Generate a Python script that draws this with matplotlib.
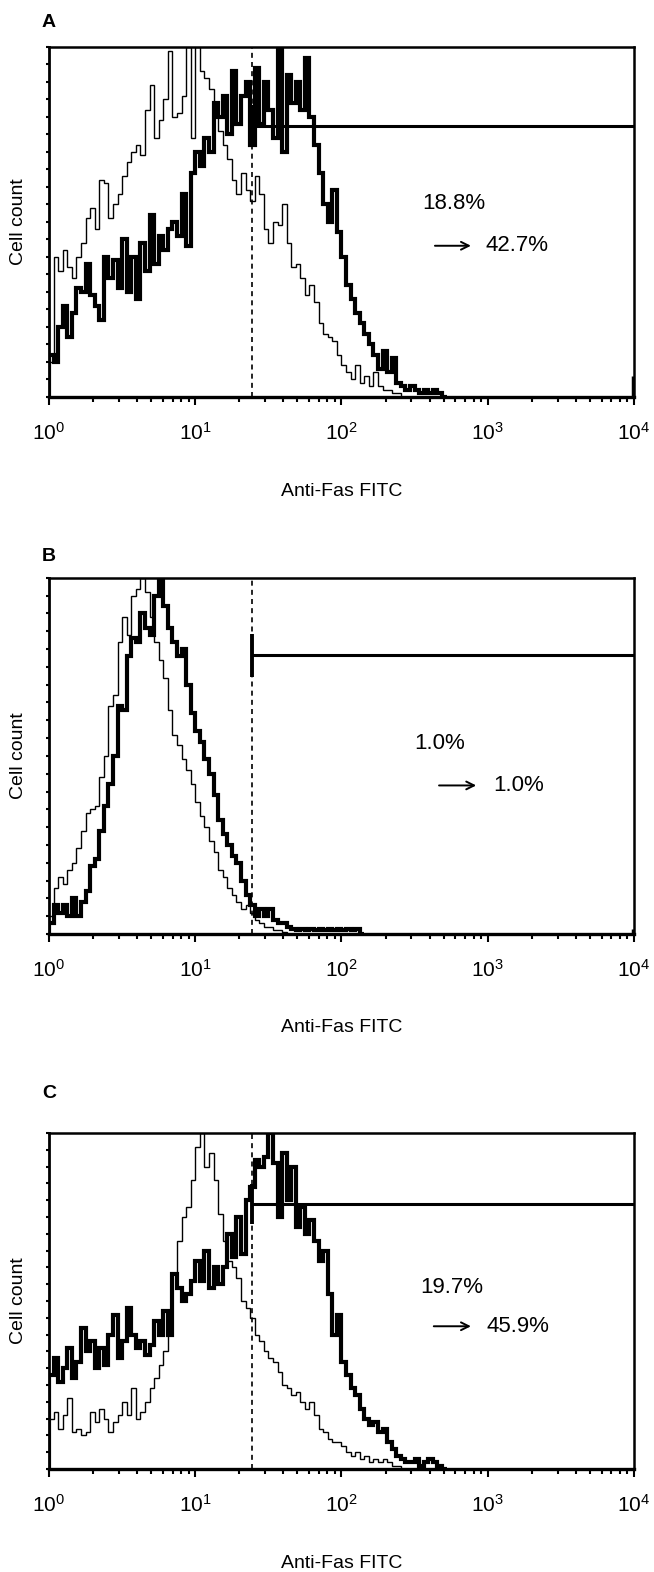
import numpy as np
import matplotlib
matplotlib.use("Agg")
import matplotlib.pyplot as plt
from matplotlib.ticker import LogLocator, NullFormatter

plt.rcParams['font.family'] = ['Liberation Sans', 'DejaVu Sans']

# histogram channels: 32 per decade, starting at 10^0, heights in % of panel height
bins_per_decade = 32

# panel A
a_ctrl = [10, 40, 36, 42, 37, 34, 40, 44, 51, 54, 48, 62, 61, 51, 55, 58, 63, 67, 70, 72,
          69, 82, 89, 74, 79, 85, 99, 80, 81, 86, 100, 74, 100, 93, 91, 88, 84,
          76, 72, 68, 62, 58, 64, 59, 56, 63, 58, 48, 44, 50, 49, 55, 44, 37, 38, 34, 29,
          32, 27, 21, 18, 17, 16, 12, 9, 7, 5, 9, 4, 6, 3, 7, 3, 2, 2, 1, 1, 0]
a_fas = [12, 10, 20, 26, 17, 24, 31, 30, 38, 29, 26, 22, 40, 34, 39, 31, 45, 30, 40, 28,
         44, 36, 52, 38, 46, 42, 48, 50, 46, 58, 43, 64, 70, 66, 74, 70, 84,
         80, 86, 75, 93, 78, 86, 90, 72, 94, 78, 90, 82, 74, 100, 70, 92, 84, 90, 82, 97,
         80, 72, 64, 55, 50, 59, 47, 40, 32, 28, 24, 21, 18, 15, 12, 8, 13, 7, 11, 4,
         3, 2, 3, 2, 1, 2, 1, 2, 1, 0]
a_overflow = 6

# panel B
b_ctrl = [5, 13, 16, 14, 18, 20, 24, 29, 34, 35, 36, 44, 50, 64, 67, 82, 89, 84, 95, 97,
          100, 96, 89, 82, 77, 72, 63, 56, 53, 49, 46, 42, 37, 33, 30, 26, 23, 18, 16,
          13, 11, 9, 7, 8, 6, 4, 3, 2, 2, 1, 1, 0.5, 0]
b_fas = [3, 8, 6, 8, 5, 10, 5, 9, 12, 19, 21, 29, 36, 42, 50, 64, 63, 78, 83, 82,
         90, 86, 84, 95, 100, 92, 86, 82, 78, 80, 70, 62, 57, 54, 49, 45, 39, 32, 28,
         25, 22, 20, 15, 11, 8, 5, 7, 5, 7, 4, 3, 3, 2, 1.5, 1, 1.5, 1, 1.5, 1,
         1.5, 1, 1.5, 1, 1.5, 1, 1.5, 1, 1.5, 0]
b_overflow = 1.5

# panel C
c_ctrl = [15, 17, 12, 16, 21, 11, 12, 10, 11, 17, 14, 18, 15, 11, 14, 16, 20, 16, 24, 15,
          17, 20, 24, 27, 31, 35, 44, 58, 68, 75, 78, 86, 96, 100, 90, 94, 86, 76, 68,
          62, 60, 57, 50, 48, 45, 40, 38, 35, 33, 32, 29, 25, 24, 22, 23, 20, 18, 20, 16,
          12, 11, 9, 8, 8, 7, 5, 4, 5, 3, 4, 2, 3, 2, 3, 2, 1, 1, 0]
c_fas = [28, 33, 26, 30, 36, 27, 32, 42, 35, 38, 30, 36, 31, 40, 46, 33, 38, 48, 40, 36,
         38, 34, 37, 44, 40, 47, 40, 58, 54, 50, 52, 56, 62, 56, 65, 54, 60,
         55, 60, 70, 63, 75, 64, 80, 84, 92, 90, 93, 100, 91, 75, 94, 80, 90, 72, 78, 70,
         74, 68, 62, 65, 52, 40, 46, 32, 28, 24, 22, 18, 15, 13, 14, 11, 12, 8, 6, 4,
         3, 2, 2, 3, 1, 2, 3, 2, 1, 0]
c_overflow = 0

gate_x = 24.3
gate_y = [77.5, 78.2, 78.8]
ctrl_pct = ["18.8%", "1.0%", "19.7%"]
fas_pct = ["42.7%", "1.0%", "45.9%"]
letters = ["A", "B", "C"]


def edges(vals):
    return 10 ** (np.arange(len(vals) + 1) / bins_per_decade)


fig = plt.figure(figsize=(6.54, 15.72), dpi=100)

# axes boxes [left, bottom, width, height]
boxes = [[0.0749, 0.7475, 0.8945, 0.2226],
         [0.0749, 0.4059, 0.8945, 0.2265],
         [0.0749, 0.0655, 0.8945, 0.2137]]
letter_y = [0.986, 0.6463, 0.3047]
xlabel_y = [-0.245, -0.24, -0.255]
# text positions (axes fraction): ctrl label centre, arrow y, arrow start/end, fas label left
txt = [(0.692, 0.552, 0.432, 0.655, 0.726, 0.746),
       (0.667, 0.534, 0.417, 0.662, 0.735, 0.760),
       (0.688, 0.541, 0.425, 0.653, 0.726, 0.748)]

data = [(a_ctrl, a_fas, a_overflow), (b_ctrl, b_fas, b_overflow), (c_ctrl, c_fas, c_overflow)]

for i in range(3):
    ax = fig.add_axes(boxes[i])
    ctrl, fas, over = data[i]
    ax.stairs(ctrl, edges(ctrl), baseline=0, color='k', lw=1.0)
    ax.stairs(fas, edges(fas), baseline=0, color='k', lw=3.0)
    if over > 0:
        ax.vlines(10 ** 3.995, 0, over, color='k', lw=2.5)

    # marker lines
    ax.axvline(gate_x, color='k', lw=1.2, ls=(0, (3, 2.5)))
    ax.hlines(gate_y[i], gate_x, 1e4, color='k', lw=2.2)
    ax.vlines(gate_x, gate_y[i] - 6, gate_y[i] + 6, color='k', lw=2.8)

    cx, cy, ay, ax0, ax1, fx = txt[i]
    ax.text(cx, cy, ctrl_pct[i], transform=ax.transAxes, ha='center', va='center', fontsize=16)
    ax.annotate('', xy=(ax1, ay), xytext=(ax0, ay), xycoords='axes fraction',
                arrowprops=dict(arrowstyle='->', lw=1.4, color='k', mutation_scale=14))
    ax.text(fx, ay, fas_pct[i], transform=ax.transAxes, ha='left', va='center', fontsize=16)

    ax.set_xscale('log')
    ax.set_xlim(1, 1e4)
    ax.set_ylim(0, 100)
    ax.xaxis.set_major_locator(LogLocator(base=10, numticks=10))
    ax.xaxis.set_minor_locator(LogLocator(base=10, subs=np.arange(2, 10), numticks=20))
    ax.xaxis.set_minor_formatter(NullFormatter())
    ax.tick_params(axis='x', which='major', direction='out', length=6, width=1.5, pad=12, labelsize=15)
    ax.tick_params(axis='x', which='minor', direction='out', length=3.5, width=1.5)
    ax.set_yticks(np.linspace(0, 100, 21))
    ax.tick_params(axis='y', which='major', direction='out', length=2, width=1.5, labelleft=False)

    for side, w in [('left', 2.0), ('bottom', 2.4), ('top', 1.8), ('right', 1.8)]:
        ax.spines[side].set_linewidth(w)

    ax.set_xlabel('Anti-Fas FITC', fontsize=14)
    ax.xaxis.set_label_coords(0.5, xlabel_y[i])
    ax.set_ylabel('Cell count', fontsize=14)
    ax.yaxis.set_label_coords(-0.038, 0.5)

    fig.text(0.064, letter_y[i], letters[i], fontsize=14, fontweight='bold', va='center')

fig.savefig('out.png', dpi=100)
